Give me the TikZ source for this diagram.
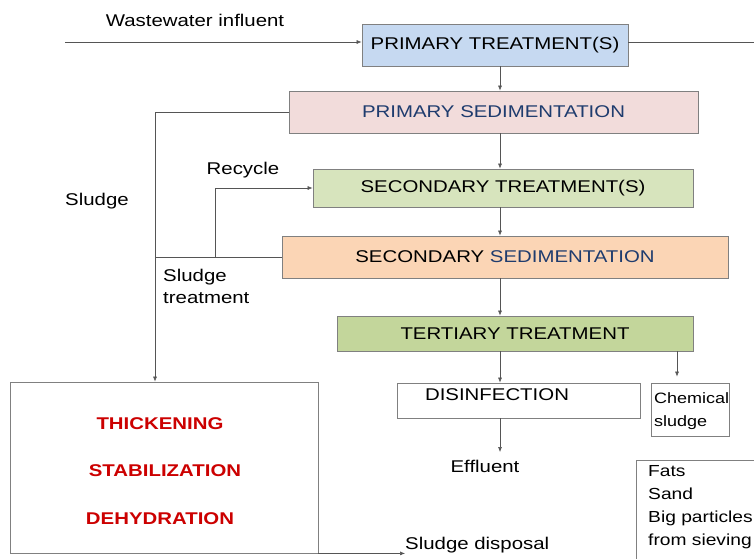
\documentclass[tikz,border=0pt]{standalone}
\usepackage{fontspec}
\setmainfont[FakeStretch=1.2]{Liberation Sans}
\usetikzlibrary{arrows.meta}

\definecolor{bluefill}{HTML}{C6D9F1}
\definecolor{pinkfill}{HTML}{F2DCDB}
\definecolor{greenfill}{HTML}{D7E4BD}
\definecolor{peachfill}{HTML}{FBD5B5}
\definecolor{olivefill}{HTML}{C3D69B}
\definecolor{sedblue}{HTML}{1F3C6E}
\definecolor{redtext}{HTML}{CC0000}
\definecolor{linegrey}{HTML}{555555}

\begin{document}
\begin{tikzpicture}[x=1pt, y=-1pt,
  font=\fontsize{17}{20}\selectfont,
  box/.style={draw=black!50, line width=0.8pt, inner sep=0pt, anchor=center},
  lbl/.style={inner sep=0pt, anchor=center},
  redlbl/.style={lbl, text=redtext, font=\bfseries\fontsize{17}{20}\selectfont},
  arr/.style={draw=linegrey, line width=0.6pt, -{Latex[length=5pt,width=4pt]}},
  ln/.style={draw=linegrey, line width=0.6pt}]

  \clip (0,0) rectangle (754,558);
  \fill[white] (0,0) rectangle (754,558);

  % helper columns
  \coordinate (axis) at (500,0);
  \coordinate (sl) at (155,0);
  \coordinate (rc) at (215,0);
  \coordinate (cx) at (677,0);
  \coordinate (fx) at (756,0);
  \coordinate (inf) at (65,42);

  % main line
  \node[box, fill=bluefill, minimum width=266, minimum height=42] (pt) at (495,45) {PRIMARY TREATMENT(S)};
  \node[box, fill=pinkfill, minimum width=409, minimum height=42, text=sedblue] (ps) at (493.5,112) {PRIMARY SEDIMENTATION};
  \node[box, fill=greenfill, minimum width=380, minimum height=38] (sec) at (503,188) {SECONDARY TREATMENT(S)};
  \node[box, fill=peachfill, minimum width=446, minimum height=42] (ss) at (505,257) {SECONDARY \textcolor{sedblue}{SEDIMENTATION}};
  \node[box, fill=olivefill, minimum width=356, minimum height=35] (ter) at (515,333.5) {TERTIARY TREATMENT};
  \node[box, minimum width=243, minimum height=35] (dis) at (518.5,400.5) {};
  \node[lbl] at (497,395) {DISINFECTION};
  \node[box, minimum width=78, minimum height=53] (chem) at (690,409.5) {};
  \node[lbl, anchor=north west, align=left, font=\fontsize{15}{23}\selectfont] at (654,392) {Chemical\\sludge};
  \node[lbl] (eff) at (485,466) {Effluent};

  % sludge line
  \node[box, minimum width=308, minimum height=171] (big) at (164,467.5) {};
  \node[redlbl] at (160,424) {THICKENING};
  \node[redlbl] at (165,471) {STABILIZATION};
  \node[redlbl] at (160,519) {DEHYDRATION};
  \node[lbl, anchor=west] (disp) at (405,545) {Sludge disposal};
  \node[box, minimum width=124, minimum height=130, anchor=north west] (fats) at (636,460) {};
  \node[lbl, anchor=north west, align=left, font=\fontsize{16}{23}\selectfont] at (648,465) {Fats\\Sand\\Big particles\\from sieving};

  % labels
  \node[lbl] (wi) at (195,20) {Wastewater influent};
  \node[lbl] (rl) at (243,170) {Recycle};
  \node[lbl] (sg) at (97,201) {Sludge};
  \node[lbl, anchor=north west, align=left, font=\fontsize{17}{22}\selectfont] (stl) at (163,269) {Sludge\\treatment};

  % connectors
  \draw[arr] (inf) -- (inf -| pt.west);
  \draw[arr] (inf -| pt.east) -| (fx |- fats.north);
  \draw[arr] (axis |- pt.south) -- (axis |- ps.north);
  \draw[arr] (axis |- ps.south) -- (axis |- sec.north);
  \draw[arr] (axis |- sec.south) -- (axis |- ss.north);
  \draw[arr] (axis |- ss.south) -- (axis |- ter.north);
  \draw[arr] (axis |- ter.south) -- (axis |- dis.north);
  \draw[arr] (axis |- dis.south) -- (axis |- 0,452);
  \draw[arr, shorten >=6pt] (cx |- ter.south) -- (cx |- chem.north);
  \draw[arr] (ps.west) -| (sl |- big.north);
  \draw[ln] (ss.west) -- (sl |- ss.west);
  \draw[arr] (rc |- ss.west) |- (sec.west);
  \draw[arr] (big.south east) -- (big.south east -| disp.west);
\end{tikzpicture}
\end{document}
